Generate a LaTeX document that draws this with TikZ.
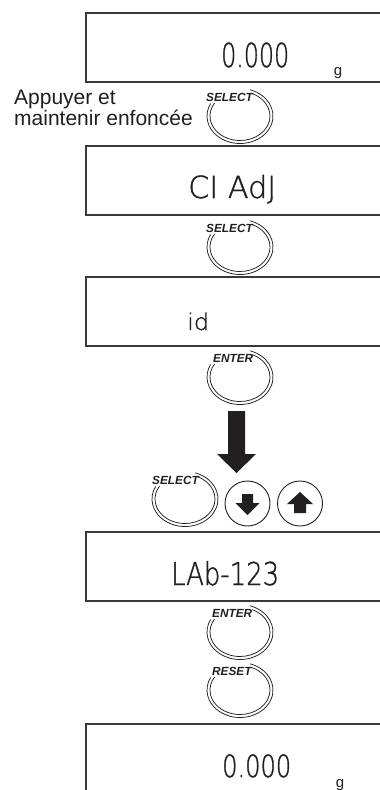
\documentclass[tikz,border=0pt]{standalone}
\usepackage{fontspec}
\setmainfont{Liberation Sans}
\newfontfamily\lcdfont[FakeBold=1.2]{DejaVu Sans ExtraLight}
\usepackage{graphicx}
\usetikzlibrary{calc}
\definecolor{ink}{HTML}{231F20}
\definecolor{framec}{HTML}{3A3A3A}
\tikzset{
  lcdbox/.style={draw=framec, line width=1.1pt},
  lcdtxt/.style={inner sep=0pt, anchor=base west, text=ink},
  keylabel/.style={inner sep=0pt, anchor=base west, text=ink,
    font=\fontsize{11.8}{12}\selectfont\bfseries\itshape},
  keyline/.style={draw=ink, line width=0.75pt},
  roundkey/.style={draw=ink, circle, minimum size=45pt, inner sep=0pt, line width=0.9pt},
  note/.style={inner sep=0pt, anchor=base west, text=ink, align=left, font=\fontsize{21}{16}\selectfont},
  unit/.style={inner sep=0pt, anchor=base, text=ink, font=\fontsize{15}{15}\selectfont}
}
% #1 width, #2 glyph height, #3 text
\newcommand{\lcdstr}[3]{\resizebox{#1}{\height}{\fontsize{#2}{#2}\selectfont\lcdfont #3}}
\newcommand{\ovalkey}[5]{%
  \coordinate (#1) at (#2,#3);
  \node[keylabel] (#1-lbl) at ($(#1)+(#5,-15)$) {#4};
  \draw[keyline] ([shift={(-72:33 and 27.5)}]#1) arc[start angle=-72, end angle=207, x radius=33, y radius=27.5];
  \draw[keyline] ([shift={(-66:30 and 24.5)}]#1) arc[start angle=-66, end angle=212, x radius=30, y radius=24.5];
}
\begin{document}
\begin{tikzpicture}[x=1pt,y=-1pt]
\useasboundingbox (0,0) rectangle (380,790);
\clip (0,0) rectangle (380,790);
\fill[white] (0,0) rectangle (380,790);

% display boxes (open to the right, cut by the frame)
\draw[lcdbox] (395,13) -- (86,13) -- (86,82) -- (395,82);
\draw[lcdbox] (395,146) -- (86,146) -- (86,215) -- (395,215);
\draw[lcdbox] (395,277) -- (86,277) -- (86,346) -- (395,346);
\draw[lcdbox] (395,532) -- (86,532) -- (86,601) -- (395,601);
\draw[lcdbox] (395,724) -- (86,724) -- (86,800);

% display texts
\node[lcdtxt] (t1) at (221,67) {\lcdstr{68pt}{33}{0.000}};
\node[unit] (g1) at (338,75) {g};
\node[lcdtxt] (t2) at (188,198) {\lcdstr{88pt}{30.5}{CI AdJ}};
\node[lcdtxt] (t3) at (187,330) {\lcdstr{22pt}{23}{id}};
\node[lcdtxt] (t4) at (171,585) {\lcdstr{108pt}{31.5}{LAb-123}};
\node[lcdtxt] (t5) at (222,777) {\lcdstr{69pt}{30.5}{0.000}};
\node[unit] (g5) at (340,787) {g};

% instruction
\node[note] (n1) at (14,125) {Appuyer et\\maintenir enfoncée};

% oval keys
\ovalkey{k1}{240}{116}{SELECT}{-34}
\ovalkey{k2}{240}{247}{SELECT}{-34}
\ovalkey{k3}{240}{377}{ENTER}{-27}
\ovalkey{k4}{185}{499}{SELECT}{-33}
\ovalkey{k5}{240}{632}{ENTER}{-28}
\ovalkey{k6}{240}{690}{RESET}{-28}

% big arrow
\fill[ink] (228,411) -- (245,411) -- (245,454) -- (256,454) -- (236.5,473) -- (217,454) -- (228,454) -- cycle;

% round arrow keys
\node[roundkey] (kdown) at (247.5,503.5) {};
\node[roundkey] (kup) at (300,503.5) {};
\fill[ink, shift={(kdown.center)}] (-5.5,-9.5) -- (5.5,-9.5) -- (5.5,-0.5) -- (12,-0.5) -- (0,11.5) -- (-12,-0.5) -- (-5.5,-0.5) -- cycle;
\fill[ink, shift={(kup.center)}] (-6,9.5) -- (6,9.5) -- (6,0.5) -- (13,0.5) -- (0,-11.5) -- (-13,0.5) -- (-6,0.5) -- cycle;
\end{tikzpicture}
\end{document}
